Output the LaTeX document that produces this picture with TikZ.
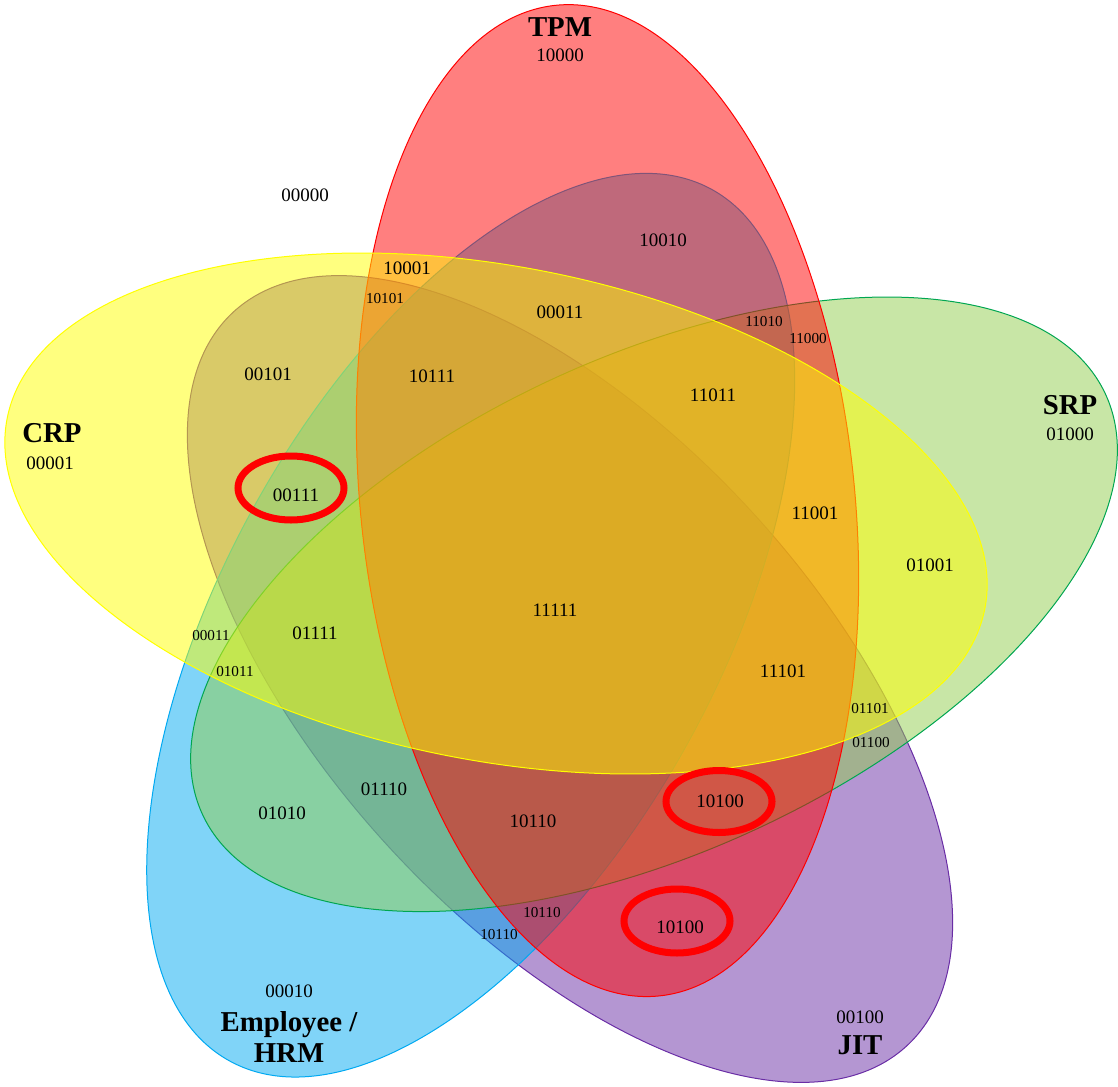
\documentclass[tikz,border=0pt]{standalone}
\usepackage{fontspec}
\setmainfont{Liberation Serif}

\definecolor{tpmred}{RGB}{255,0,0}
\definecolor{crpyellow}{RGB}{255,255,0}
\definecolor{srpgreen}{RGB}{145,205,77}
\definecolor{srpline}{RGB}{0,166,81}
\definecolor{hrmblue}{RGB}{1,169,241}
\definecolor{jitpurple}{RGB}{105,45,165}

\tikzset{
	venn/.style={fill opacity=0.5, line width=0.5pt},
	code/.style={font=\fontsize{9.5}{11}\selectfont, inner sep=0pt},
	tinycode/.style={font=\fontsize{7.6}{9}\selectfont, inner sep=0pt},
	setname/.style={font=\fontsize{14.4}{15.5}\selectfont\bfseries, inner sep=0pt, align=center},
	ring/.style={draw=red, line width=3.5pt}
}

\begin{document}
\begin{tikzpicture}[x=0.5pt, y=-0.5pt]
	\useasboundingbox (0,0) rectangle (1118,1086);

	\filldraw[venn, fill=jitpurple, draw=jitpurple, rotate around={312.5:(570,679)}] (570,679) ellipse [x radius=249pt, y radius=123.5pt];
	\filldraw[venn, fill=hrmblue, draw=hrmblue, rotate around={241:(470.7,625.2)}] (470.7,625.2) ellipse [x radius=249pt, y radius=123.5pt];
	\filldraw[venn, fill=srpgreen, draw=srpline, rotate around={25:(654,604.3)}] (654,604.3) ellipse [x radius=249pt, y radius=123.5pt];
	\filldraw[venn, fill=tpmred, draw=tpmred, rotate around={96:(607.5,500.6)}] (607.5,500.6) ellipse [x radius=249pt, y radius=123.5pt];
	\filldraw[venn, fill=crpyellow, draw=crpyellow, rotate around={169:(496,513.5)}] (496,513.5) ellipse [x radius=249pt, y radius=123.5pt];

	\node[setname] (tpm) at (560,27) {TPM};
	\node[code] (c10000) at (560,55) {10000};
	\node[setname] (srp) at (1070,405) {SRP};
	\node[code] (c01000) at (1070,434) {01000};
	\node[setname] (crp) at (52,433) {CRP};
	\node[code] (c00001) at (50,463) {00001};
	\node[code] (c00010) at (289,991) {00010};
	\node[setname] (hrm) at (289,1037) {Employee /\\HRM};
	\node[code] (c00100) at (860,1017) {00100};
	\node[setname] (jit) at (860,1045) {JIT};

	\node[code] (c00000) at (305,195) {00000};
	\node[code] (c10010) at (663,240) {10010};
	\node[code] (c10001) at (407,268) {10001};
	\node[tinycode] (c10101) at (385,299) {10101};
	\node[code] (c00011) at (560,312) {00011};
	\node[tinycode] (c11010) at (764,322) {11010};
	\node[tinycode] (c11000) at (808,339) {11000};
	\node[code] (c00101) at (268,374) {00101};
	\node[code] (c10111) at (432,376) {10111};
	\node[code] (c11011) at (713,395) {11011};
	\node[code] (c00111) at (296,495) {00111};
	\node[code] (c11001) at (815,513) {11001};
	\node[code] (c01001) at (930,565) {01001};
	\node[code] (c11111) at (555,610) {11111};
	\node[tinycode] (c00011b) at (211,636) {00011};
	\node[code] (c01111) at (315,633) {01111};
	\node[tinycode] (c01011) at (235,672) {01011};
	\node[code] (c11101) at (783,671) {11101};
	\node[tinycode] (c01101) at (870,709) {01101};
	\node[tinycode] (c01100) at (871,743) {01100};
	\node[code] (c10100) at (720,801) {10100};
	\node[code] (c01110) at (384,789) {01110};
	\node[code] (c01010) at (282,813) {01010};
	\node[code] (c10110) at (533,821) {10110};
	\node[tinycode] (c10110b) at (542,913) {10110};
	\node[tinycode] (c10110c) at (499,935) {10110};
	\node[code] (c10100b) at (680,927) {10100};

	\draw[ring] (291,488) ellipse [x radius=26.5pt, y radius=16pt];
	\draw[ring] (719,801.5) ellipse [x radius=26.5pt, y radius=15.5pt];
	\draw[ring] (677,921) ellipse [x radius=26.5pt, y radius=16pt];
\end{tikzpicture}
\end{document}
